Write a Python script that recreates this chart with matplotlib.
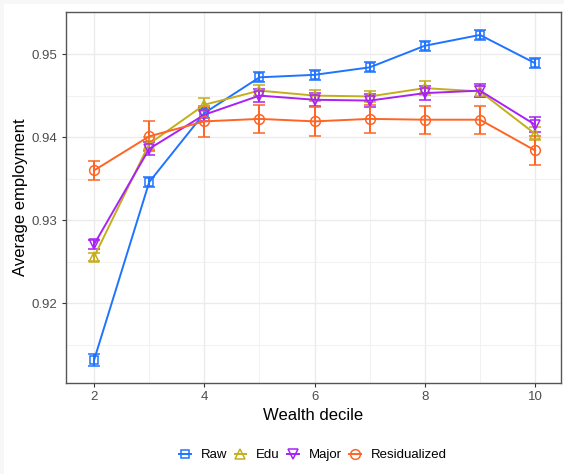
import matplotlib
matplotlib.use("Agg")
import matplotlib.pyplot as plt
from matplotlib.lines import Line2D
from matplotlib.patches import Rectangle

plt.rcParams["font.family"] = ["Liberation Sans", "DejaVu Sans"]

deciles = [2, 3, 4, 5, 6, 7, 8, 9, 10]

raw_mean = [0.9132, 0.9346, 0.9429, 0.9472, 0.9475, 0.9484, 0.9510, 0.9523, 0.9489]
raw_se = [0.0007, 0.0006, 0.0006, 0.0006, 0.0006, 0.0006, 0.0006, 0.0006, 0.0006]

edu_mean = [0.9256, 0.9392, 0.9439, 0.9456, 0.9450, 0.9449, 0.9459, 0.9455, 0.9404]
edu_se = [0.0005, 0.0008, 0.0008, 0.0007, 0.0007, 0.0007, 0.0008, 0.0007, 0.0008]

major_mean = [0.9271, 0.9386, 0.9427, 0.9450, 0.9445, 0.9444, 0.9453, 0.9456, 0.9415]
major_se = [0.0005, 0.0008, 0.0008, 0.0008, 0.0008, 0.0008, 0.0008, 0.0008, 0.0009]

resid_mean = [0.9360, 0.9401, 0.9419, 0.9422, 0.9419, 0.9422, 0.9421, 0.9421, 0.9384]
resid_se = [0.0011, 0.0018, 0.0019, 0.0017, 0.0017, 0.0017, 0.0017, 0.0017, 0.0017]

series_names = ["Raw", "Edu", "Major", "Residualized"]
series_colors = ["#1F74FF", "#C4AE1C", "#A822F5", "#FF6424"]
series_markers = ["s", "^", "v", "o"]
series_msize = [6.3, 7.0, 7.0, 7.0]

x_ticks = [2, 4, 6, 8, 10]
y_ticks = [0.92, 0.93, 0.94, 0.95]

fig = plt.figure(figsize=(5.64, 4.74), dpi=100, facecolor="#f7f7f7")
fig.patches.append(Rectangle((4 / 564, 0), 1, 1 - 4 / 474, transform=fig.transFigure,
                             facecolor="white", edgecolor="none", zorder=-10))

ax = fig.add_axes([66 / 564, 1 - 382.5 / 474, (561 - 66) / 564, (382.5 - 12) / 474])
ax.set_zorder(1)
ax.set_facecolor("white")

all_means = [raw_mean, edu_mean, major_mean, resid_mean]
all_se = [raw_se, edu_se, major_se, resid_se]

handles = []
for name, mean, se, col, mk, ms in zip(series_names, all_means, all_se,
                                       series_colors, series_markers, series_msize):
    ax.errorbar(deciles, mean, yerr=se, color=col, lw=1.4, elinewidth=1.4,
                capsize=4.0, capthick=1.4, marker=mk, markersize=ms,
                markerfacecolor="none", markeredgecolor=col, markeredgewidth=1.1,
                zorder=3)
    handles.append(Line2D([0], [0], color=col, lw=1.4, marker=mk, markersize=ms,
                          markerfacecolor="none", markeredgecolor=col,
                          markeredgewidth=1.1, label=name))

ax.set_xlim(1.49, 10.47)
ax.set_ylim(0.91048, 0.95506)

ax.set_xticks(x_ticks)
ax.set_xticklabels([str(t) for t in x_ticks])
ax.set_yticks(y_ticks)
ax.set_yticklabels([f"{t:.2f}" for t in y_ticks])
ax.set_xticks([3, 5, 7, 9], minor=True)
ax.set_yticks([0.915, 0.925, 0.935, 0.945], minor=True)

ax.grid(which="major", color="#ebebeb", lw=1.0, zorder=0)
ax.grid(which="minor", color="#f2f2f2", lw=0.8, zorder=0)
ax.set_axisbelow(True)

ax.tick_params(which="major", length=3, width=0.8, color="#333333",
               labelsize=9.5, labelcolor="#4d4d4d", pad=3)
ax.tick_params(which="minor", length=0)

for sp in ax.spines.values():
    sp.set_color("#555555")
    sp.set_linewidth(1.0)

ax.set_xlabel("Wealth decile", fontsize=12, color="black", labelpad=4)
ax.set_ylabel("Average employment", fontsize=12, color="black", labelpad=3)

fig.legend(handles=handles, loc="center", bbox_to_anchor=(313 / 564, 1 - 455 / 474),
           ncol=4, frameon=False, fontsize=9.5, handlelength=0.9, handletextpad=0.75,
           columnspacing=0.55)

fig.savefig("out.png", dpi=100, facecolor=fig.get_facecolor())
